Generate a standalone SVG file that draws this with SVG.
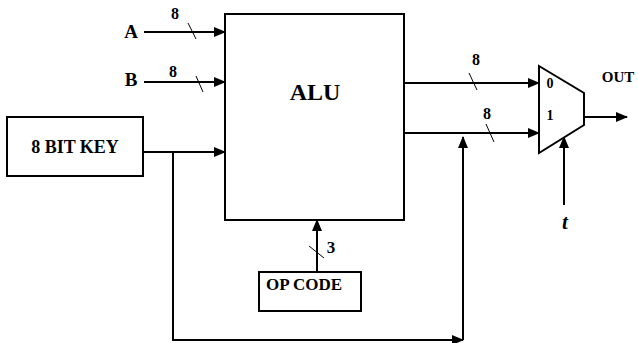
<svg xmlns="http://www.w3.org/2000/svg" width="638" height="343" viewBox="0 0 638 343">
<defs>
<marker id="ah" markerUnits="userSpaceOnUse" markerWidth="12" markerHeight="10" refX="11" refY="5" orient="auto">
<path d="M0,0 L12,5 L0,10 Z" fill="#000"/>
</marker>
<style>
.ln{stroke:#000;stroke-width:2;fill:none}
.arr{stroke:#000;stroke-width:2;fill:none;marker-end:url(#ah)}
.sl{stroke:#000;stroke-width:1;fill:none}
.box{stroke:#000;stroke-width:2;fill:#fff}
.t{font-family:"Liberation Serif","Times New Roman",serif;font-weight:bold;fill:#000}
</style>
</defs>
<rect width="638" height="343" fill="#fff"/>
<g id="connectors">
<line class="arr" x1="144" y1="32" x2="225" y2="32"/>
<line class="sl" x1="188" y1="23" x2="196" y2="39"/>
<line class="arr" x1="144" y1="82" x2="225" y2="82"/>
<line class="sl" x1="196" y1="76" x2="203" y2="92"/>
<line class="arr" x1="143" y1="152" x2="225" y2="152"/>
<polyline class="arr" points="173,152 173,340 463,340"/>
<line class="arr" x1="463" y1="340" x2="463" y2="137"/>
<line class="arr" x1="404" y1="83" x2="539" y2="83"/>
<line class="sl" x1="469" y1="73" x2="477" y2="90"/>
<line class="arr" x1="404" y1="133" x2="539" y2="133"/>
<line class="sl" x1="486" y1="124" x2="494" y2="142"/>
<line class="arr" x1="317" y1="272" x2="317" y2="220"/>
<line class="sl" x1="309" y1="246" x2="324" y2="258"/>
<line class="arr" x1="564" y1="205" x2="564" y2="137"/>
<line class="arr" x1="584" y1="117" x2="627" y2="117"/>
</g>
<g id="labels">
<text class="t" x="131" y="38" font-size="19" text-anchor="middle">A</text>
<text class="t" x="131" y="86" font-size="19" text-anchor="middle">B</text>
<text class="t" x="175" y="19" font-size="16" text-anchor="middle">8</text>
<text class="t" x="173" y="77" font-size="16" text-anchor="middle">8</text>
<text class="t" x="476" y="65" font-size="16" text-anchor="middle">8</text>
<text class="t" x="487" y="119" font-size="16" text-anchor="middle">8</text>
<text class="t" x="331" y="253" font-size="17" text-anchor="middle">3</text>
<text class="t" x="618" y="82" font-size="15" text-anchor="middle">OUT</text>
<text class="t" x="565" y="229" font-size="21" font-style="italic" text-anchor="middle">t</text>
</g>
<g id="alu">
<rect class="box" x="225" y="14" width="179" height="206"/>
<text class="t" x="315" y="100" font-size="24" text-anchor="middle">ALU</text>
</g>
<g id="key">
<rect class="box" x="7" y="117" width="136" height="59"/>
<text class="t" x="75" y="153" font-size="18" text-anchor="middle">8 BIT KEY</text>
</g>
<g id="opcode">
<rect class="box" x="259" y="272" width="102" height="39"/>
<text class="t" x="304" y="290" font-size="17" text-anchor="middle">OP CODE</text>
</g>
<g id="mux">
<polygon class="box" points="539,66 584,93 584,125 539,153"/>
<text class="t" x="550" y="88" font-size="14" text-anchor="middle">0</text>
<text class="t" x="550" y="120" font-size="14" text-anchor="middle">1</text>
</g>
</svg>
